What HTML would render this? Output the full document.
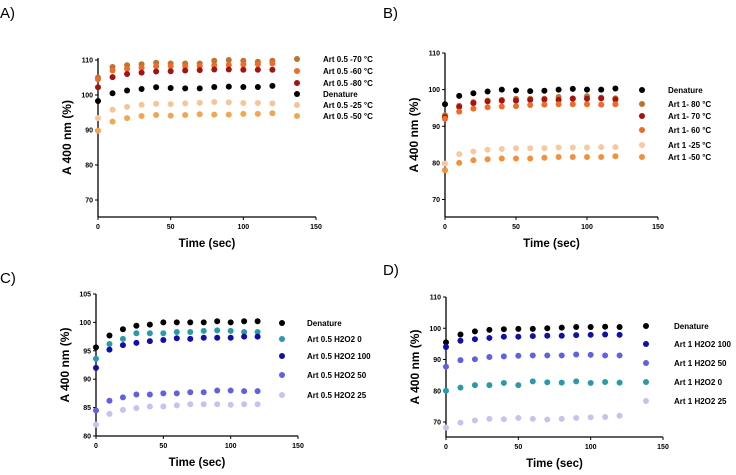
<!DOCTYPE html>
<html><head><meta charset="utf-8"><style>
body{margin:0;background:#fff;width:736px;height:470px;overflow:hidden}
svg{font-family:"Liberation Sans",sans-serif}
</style></head><body>
<svg id="fig" width="736" height="470" viewBox="0 0 736 470" xmlns="http://www.w3.org/2000/svg"></svg>
<script>
const times=[0,10,20,30,40,50,60,70,80,90,100,110,120];
// Panel A
const aNames=["Art 0.5 -70 °C","Art 0.5 -60 °C","Art 0.5 -80 °C","Denature","Art 0.5 -25 °C","Art 0.5 -50 °C"];
const aColors=["#c0722a","#f06a28","#a51212","#000000","#f5c597","#f2a650"];
const aS1=[105,108,108.5,108.8,109.2,109,109,109,109.8,110,109.8,109.5,109.8];
const aS2=[104.5,107,107.5,107.8,108.2,108.2,108.2,108.3,108.5,108.6,108.7,108.8,109];
const aS3=[102.2,105.1,106,106.4,106.7,106.8,107,107.1,107.3,107.3,107.2,107.2,107.2];
const aS4=[98.3,100.5,101.3,101.7,102.2,102,101.9,101.9,102.3,102.4,102.3,102.3,102.6];
const aS5=[93.4,95.8,96.6,97.2,97.5,97.4,97.6,97.8,98,97.9,97.7,97.7,97.6];
const aS6=[89.8,92.4,93.4,94,94.3,94.1,94.3,94.5,94.4,94.4,94.6,94.6,94.8];
const aTicks=[70,80,90,100,110];
// Panel B
const bNames=["Denature","Art 1- 80 °C","Art 1- 70 °C","Art 1- 60 °C","Art 1 -25 °C","Art 1 -50 °C"];
const bColors=["#000000","#c0722a","#a51212","#f06a28","#f8c9a0","#f2913a"];
const bS1=[96,98.3,99,99.5,100,99.8,99.6,99.7,100,100.2,100,100,100.3];
const bS2=[93,95.6,96.6,97,97.2,97.5,97.5,97.5,98,97.6,98.2,97.8,97.6];
const bS3=[92.5,95.3,96.3,96.8,97,97,97.2,97.3,97.2,97.5,97.5,97.6,97.3];
const bS4=[92,94,94.8,95.2,95.4,95.5,95.8,95.9,96,96,96,95.9,96];
const bS5=[79.8,82.4,83.1,83.6,83.8,84,84,84,84.2,84.2,84.2,84.3,84.3];
const bS6=[78,80,80.7,81,81.2,81.2,81.2,81.4,81.6,81.6,81.6,81.6,81.8];
const bTicks=[70,80,90,100,110];
// Panel C
const cNames=["Denature","Art 0.5 H2O2 0","Art 0.5 H2O2 100","Art 0.5 H2O2 50","Art 0.5 H2O2 25"];
const cColors=["#000000","#2a9aa8","#1010a8","#6060e0","#c4c4ee"];
const cS1=[95.6,97.7,98.8,99.4,99.6,100,100,100,100,100.2,100,100.2,100.2];
const cS2=[93.6,96.2,97.1,98.1,98.1,98.1,98.3,98.3,98.5,98.6,98.5,98.3,98.3];
const cS3=[92,95.2,96,96.4,96.7,96.9,97.2,97.1,97.3,97.3,97.3,97.5,97.5];
const cS4=[84.5,86.2,86.8,87.3,87.3,87.5,87.5,87.7,87.7,88,88,87.9,87.9];
const cS5=[82,83.9,84.6,84.9,85.2,85.2,85.4,85.6,85.6,85.6,85.5,85.6,85.6];
const cTicks=[80,85,90,95,100,105];
// Panel D
const dNames=["Denature","Art 1 H2O2 100","Art 1 H2O2 50","Art 1 H2O2 0","Art 1 H2O2 25"];
const dColors=["#000000","#1010a8","#6060e0","#2a9aa8","#c4c4ee"];
const dS1=[95.5,98,99,99.5,99.7,99.8,99.8,100,100.2,100.4,100.4,100.5,100.4];
const dS2=[94,96,96.5,96.9,97.3,97.3,97.5,97.6,97.6,97.8,97.9,98,97.9];
const dS3=[87.7,89.8,90.1,90.8,91,91.2,91.3,91.3,91.3,91.6,91.5,91.3,91.3];
const dS4=[80,81,81.8,81.8,82.5,81.8,83,82.7,82.6,83,82.5,82.8,82.6];
const dS5=[68.2,69.8,70.5,71,70.9,71.3,71,70.8,71,71.3,71.5,71.6,72];
const dTicks=[70,80,90,100,110];
const xTicks=[0,50,100,150];

const NS="http://www.w3.org/2000/svg";
const svg=document.getElementById('fig');
function mk(tag,attrs,parent,text){const e=document.createElementNS(NS,tag);for(const k in attrs)e.setAttribute(k,attrs[k]);if(text!==undefined)e.textContent=text;(parent||svg).appendChild(e);return e;}

function panel(p){
  const g=mk('g',{});
  
  
  const xs=v=>p.x0+(v-0)/150*(p.x1-p.x0);
  const ys=v=>p.yAt1+(v-p.v1)/(p.v2-p.v1)*(p.yAt2-p.yAt1);
  const lab=mk('text',{x:p.lx,y:p.ly,'font-size':15,fill:'#000'},g,p.id+')');
  
  
  const ya=mk('line',{x1:p.x0,x2:p.x0,y1:p.yTop,y2:p.yBase,stroke:'#000','stroke-width':1.3},g);
  
  
  const xa=mk('line',{x1:p.x0,x2:p.x1,y1:p.yBase,y2:p.yBase,stroke:'#000','stroke-width':1.3},g);
  
  
  p.yt.forEach(t=>{const y=ys(t);
    mk('line',{x1:p.x0-3,x2:p.x0,y1:y,y2:y,stroke:'#000','stroke-width':1},g);
    const tl=mk('text',{x:p.x0-5,y:y+2.5,'font-size':7,'font-weight':'bold','text-anchor':'end'},g,t);
    
    });
  xTicks.forEach(t=>{const x=xs(t);
    mk('line',{x1:x,x2:x,y1:p.yBase,y2:p.yBase+3,stroke:'#000','stroke-width':1},g);
    const tl=mk('text',{x:x,y:p.yBase+12,'font-size':7,'font-weight':'bold','text-anchor':'middle'},g,t);
    
    });
  const xt=mk('text',{x:(p.x0+p.x1)/2,y:p.yBase+30,'font-size':11.5,'font-weight':'bold','text-anchor':'middle'},g,'Time (sec)');
  
  
  const cy=(p.yTop+p.yBase)/2, tx=p.x0-27;
  const yt=mk('text',{x:tx,y:cy,'font-size':12,'font-weight':'bold','text-anchor':'middle',transform:`rotate(-90 ${tx} ${cy})`},g,'A 400 nm (%)');
  
  
  p.series.forEach((s,i)=>{
    const sg=mk('g',{},g);
    
    
    s.forEach((v,j)=>{const c=mk('circle',{cx:xs(times[j]),cy:ys(v),r:3,fill:p.colors[i]},sg);
      
      });
    const ly=p.legY[i];
    const lm=mk('circle',{cx:p.legMx,cy:ly,r:3,fill:p.colors[i]},g);
    
    
    const lt=mk('text',{x:p.legTx,y:ly+3,'font-size':8,'font-weight':'bold'},g,p.names[i]);
    
    
  });
}
panel({id:'A',lx:0,ly:18,x0:98,x1:316,yAt1:60,v1:110,yAt2:200,v2:70,yTop:58,yBase:217,yt:aTicks,
  series:[aS1,aS2,aS3,aS4,aS5,aS6],names:aNames,colors:aColors,legMx:297,legTx:323,legY:[59,71,83,94,105,116]});
panel({id:'B',lx:383,ly:18,x0:445,x1:658,yAt1:53,v1:110,yAt2:199.5,v2:70,yTop:53,yBase:217,yt:bTicks,
  series:[bS1,bS2,bS3,bS4,bS5,bS6],names:bNames,colors:bColors,legMx:642,legTx:668,legY:[90,104,116,130,145,157]});
panel({id:'C',lx:0,ly:283,x0:96,x1:298,yAt1:294,v1:105,yAt2:436,v2:80,yTop:294,yBase:436,yt:cTicks,
  series:[cS1,cS2,cS3,cS4,cS5],names:cNames,colors:cColors,legMx:282,legTx:307,legY:[323,339,356,375,395]});
panel({id:'D',lx:383,ly:275,x0:446,x1:663,yAt1:297,v1:110,yAt2:422,v2:70,yTop:297,yBase:437,yt:dTicks,
  series:[dS1,dS2,dS3,dS4,dS5],names:dNames,colors:dColors,legMx:646,legTx:674,legY:[326,344,363,382,401]});
</script>
</body></html>
